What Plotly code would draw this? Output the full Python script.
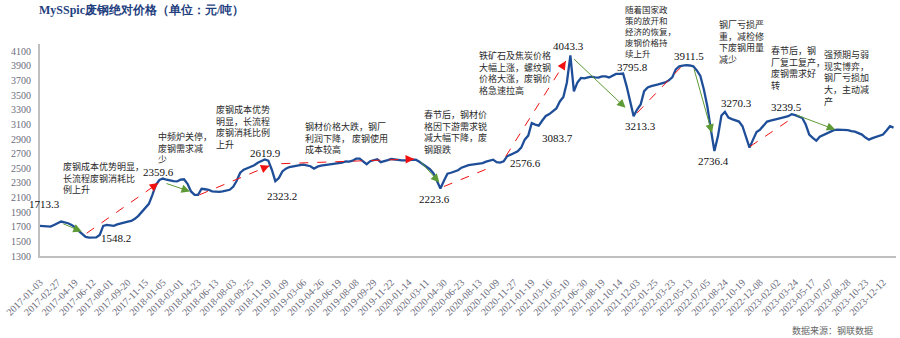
import plotly.graph_objects as go

# ---------------- data ----------------
tick_dates = [
    "2017-01-03", "2017-02-27", "2017-04-19", "2017-06-12", "2017-08-01", "2017-09-20", "2017-11-15",
    "2018-01-05", "2018-03-01", "2018-04-23", "2018-06-13", "2018-08-03", "2018-09-25", "2018-11-19",
    "2019-01-09", "2019-03-06", "2019-04-26", "2019-06-19", "2019-08-08", "2019-09-29", "2019-11-22",
    "2020-01-14", "2020-03-11", "2020-04-30", "2020-06-23", "2020-08-13", "2020-10-09", "2020-11-27",
    "2021-01-19", "2021-03-16", "2021-05-10", "2021-06-30", "2021-08-19", "2021-10-14", "2021-12-03",
    "2022-01-25", "2022-03-23", "2022-05-13", "2022-07-05", "2022-08-24", "2022-10-19", "2022-12-08",
    "2023-02-02", "2023-03-24", "2023-05-17", "2023-07-07", "2023-08-28", "2023-10-23", "2023-12-12",
]
samples_per_tick = 5  # price sampled every ~5 trading days

price = [
    1713.3, 1712, 1705, 1702, 1725, 1753, 1771, 1760, 1748, 1725,
    1691, 1643, 1602, 1561, 1551, 1548.2, 1554, 1588, 1712, 1725,
    1718, 1712, 1732, 1746, 1767, 1771, 1780, 1808, 1849, 1904,
    1973, 2014, 2137, 2275, 2340, 2359.6, 2343, 2329, 2323, 2320,
    2345, 2350, 2288, 2183, 2137, 2137, 2220, 2213, 2206, 2185,
    2178, 2178, 2185, 2192, 2206, 2247, 2329, 2439, 2480, 2501,
    2522, 2542, 2576, 2597, 2619.9, 2604, 2480, 2323.2, 2366, 2457,
    2494, 2517, 2528, 2535, 2542, 2549, 2542, 2528, 2494, 2522,
    2535, 2542, 2549, 2556, 2559, 2563, 2576, 2594, 2590, 2604,
    2631, 2631, 2590, 2556, 2597, 2611, 2624, 2583, 2594, 2611,
    2627, 2618, 2608, 2608, 2608, 2608, 2611, 2618, 2590, 2556,
    2522, 2487, 2432, 2316, 2223.6, 2329, 2425, 2439, 2453, 2473,
    2508, 2526, 2542, 2549, 2556, 2563, 2570, 2590, 2604, 2618,
    2583, 2576.6, 2594, 2666, 2686, 2707, 2731, 2782, 2892, 2947,
    3119, 3098, 3083.7, 3153, 3215, 3242, 3276, 3318, 3414, 3475,
    3674, 4043.3, 3551, 3674, 3736, 3729, 3743, 3753, 3743, 3739,
    3757, 3757, 3743, 3771, 3790, 3791, 3795.8, 3624, 3400, 3213.3,
    3304, 3372, 3555, 3606, 3624, 3640, 3647, 3661, 3674, 3702,
    3743, 3853, 3895, 3905, 3911.5, 3906, 3895, 3839, 3764, 3578,
    3345, 3029, 2736.4, 2937, 3222, 3270.3, 3194, 3173, 3153, 3139,
    3075, 2933, 2782, 2892, 2995, 3029, 3084, 3139, 3153, 3167,
    3180, 3190, 3201, 3212, 3239.5, 3228, 3208, 3190, 3098, 2961,
    2915, 2878, 2933, 2954, 2974, 3006, 3022, 3029, 3029, 3029,
    3022, 3009, 3002, 2981, 2961, 2920, 2892, 2913, 2929, 2947,
    2961, 3016, 3075, 3057,
]

y_ticks = list(range(1300, 4101, 200))

# labelled points: index into price -> label centre (x, y in data units)
value_labels = [
    (0, 1.4, 2014), (15, 21.6, 1547), (35, 33.8, 2446), (64, 64.2, 2714),
    (67, 69.0, 2124), (114, 112.2, 2082), (131, 138.3, 2576), (142, 147.4, 2920),
    (151, 150.5, 4169), (166, 168.7, 3880), (169, 171.0, 3084), (184, 184.9, 4031),
    (192, 191.7, 2604), (195, 198.2, 3393), (214, 212.4, 3338),
]

# commentary blocks: text, left / top in pixels of the 900x338 canvas
notes = [
    ("废钢成本优势明显，<br>长流程废钢消耗比<br>例上升", 60, 159, 9),
    ("中频炉关停，<br>废钢需求减<br>少", 155, 129, 9),
    ("废钢成本优势<br>明显，长流程<br>废钢消耗比例<br>上升", 213, 102, 9),
    ("钢材价格大跌，钢厂<br>利润下降， 废钢使用<br>成本较高", 303, 119, 9),
    ("春节后，钢材价<br>格因下游需求锐<br>减大幅下降，废<br>钢跟跌", 422, 107, 9),
    ("铁矿石及焦炭价格<br>大幅上涨，螺纹钢<br>价格大涨，废钢价<br>格急速拉高", 477, 48, 9),
    ("随着国家政<br>策的放开和<br>经济的恢复，<br>废钢价格持<br>续上升", 623, 2, 8.5),
    ("钢厂亏损严<br>重，减检修<br>下废钢用量<br>减少", 718, 17, 9),
    ("春节后，钢<br>厂复工复产，<br>废钢需求好<br>转", 770, 43, 9),
    ("强预期与弱<br>现实博弈，<br>钢厂亏损加<br>大，主动减<br>产", 823, 47, 9),
]

red_arrows = [
    ((13.3, 1612), (33.7, 2298)),
    ((45.4, 2137), (65.3, 2535)),
    ((68.7, 2563), (106.5, 2627)),
    ((115.0, 2251), (128.6, 2518)),
    ((132.6, 2663), (149.7, 3967)),
    ((170.0, 3258), (183.7, 3945)),
    ((202.2, 2800), (213.6, 3167)),
]
green_arrows = [
    ((6.2, 1749), (11.9, 1634)),
    ((35.6, 2298), (42.7, 2183)),
    ((108.0, 2608), (113.7, 2306)),
    ((151.6, 4013), (166.7, 3327)),
    ((186.1, 3876), (191.3, 2984)),
    ((215.0, 3235), (226.4, 3029)),
]

# ---------------- figure ----------------
W, H = 900, 338
L, R, T, B = 38, 4, 44, 82


def px2paper(px, py):
    return (px - L) / (W - L - R), (H - B - py) / (H - T - B)


SERIF = "Liberation Serif"
CJK = "Noto Sans CJK SC"

x = list(range(len(price)))
fig = go.Figure()
fig.add_trace(go.Scatter(
    x=x, y=price, mode="lines",
    line=dict(color="#1F4E99", width=2.3),
    hoverinfo="skip", showlegend=False,
))

annotations = []
num_font = dict(family=SERIF, size=11, color="#111111")
for idx, lx, ly in value_labels:
    annotations.append(dict(
        x=lx, y=ly, xref="x", yref="y", text=f"{price[idx]:.1f}",
        showarrow=False, font=num_font, xanchor="center", yanchor="middle",
    ))

for text, nx, ny, fs in notes:
    px_, py_ = px2paper(nx, ny)
    annotations.append(dict(
        x=px_, y=py_, xref="paper", yref="paper", text=text, showarrow=False,
        xanchor="left", yanchor="top", align="left", borderpad=0,
        font=dict(family=CJK, size=fs, color="#2A2A2A"),
    ))

shapes = []
RED = "#F01010"
GREEN = "#5E9A35"
for (x0, y0), (x1, y1) in red_arrows:
    shapes.append(dict(type="line", xref="x", yref="y", x0=x0, y0=y0, x1=x1, y1=y1,
                       line=dict(color=RED, width=1, dash="dash")))
    annotations.append(dict(
        x=x1, y=y1, ax=x1 - 0.06 * (x1 - x0), ay=y1 - 0.06 * (y1 - y0),
        xref="x", yref="y", axref="x", ayref="y", text="", showarrow=True,
        arrowhead=2, arrowsize=1.7, arrowwidth=1, arrowcolor=RED,
    ))
for (x0, y0), (x1, y1) in green_arrows:
    annotations.append(dict(
        x=x1, y=y1, ax=x0, ay=y0,
        xref="x", yref="y", axref="x", ayref="y", text="", showarrow=True,
        arrowhead=2, arrowsize=1.7, arrowwidth=1, arrowcolor=GREEN,
    ))

# title and source
tx, ty = px2paper(35, 10)
annotations.append(dict(
    x=tx, y=ty, xref="paper", yref="paper", text="<b>MySSpic废钢绝对价格（单位：元/吨）</b>",
    showarrow=False, xanchor="left", yanchor="middle",
    font=dict(family=SERIF, size=12, color="#1F3F7F"),
))
sx, sy = px2paper(790, 330)
annotations.append(dict(
    x=sx, y=sy, xref="paper", yref="paper", text="数据来源：钢联数据",
    showarrow=False, xanchor="left", yanchor="middle",
    font=dict(family=CJK, size=9, color="#666666"),
))

tick_vals = [i * samples_per_tick for i in range(len(tick_dates))]

fig.update_layout(
    width=W, height=H,
    margin=dict(l=L, r=R, t=T, b=B, pad=0),
    paper_bgcolor="white", plot_bgcolor="white",
    annotations=annotations, shapes=shapes,
    xaxis=dict(
        range=[0, 243.7], tickmode="array", tickvals=tick_vals, ticktext=tick_dates,
        tickangle=-45, showgrid=False, zeroline=False,
        showline=True, linecolor="#BFBFBF", linewidth=1.5,
        ticks="", ticklabelstandoff=15,
        tickfont=dict(family=SERIF, size=10, color="#6B6B7B"),
    ),
    yaxis=dict(
        range=[1300, 4200], tickmode="array", tickvals=y_ticks,
        showgrid=False, zeroline=False,
        showline=True, linecolor="#BFBFBF", linewidth=2,
        ticks="", ticklabelstandoff=5,
        tickfont=dict(family=SERIF, size=10, color="#6B6B7B"),
    ),
)

fig.write_html("out.html")
